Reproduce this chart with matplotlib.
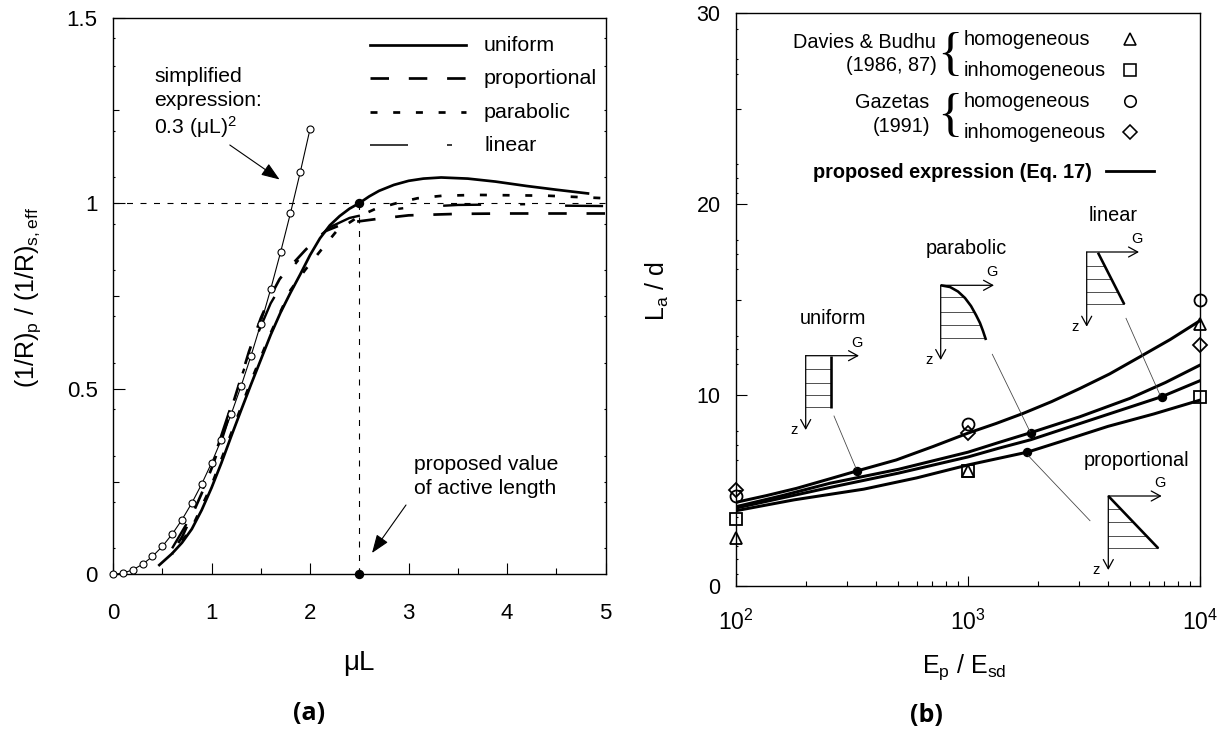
import matplotlib; matplotlib.use('agg')
import matplotlib.pyplot as plt
from matplotlib.ticker import FixedLocator, NullFormatter

plt.rcParams['font.family'] = ['Liberation Sans', 'DejaVu Sans']
plt.rcParams['mathtext.fontset'] = 'custom'
plt.rcParams['mathtext.rm'] = 'Liberation Sans'
plt.rcParams['mathtext.default'] = 'regular'
plt.rcParams['lines.scale_dashes'] = False
plt.rcParams['axes.linewidth'] = 1.0

W, H = 1231, 736
PX = 0.72   # one pixel in points at dpi 100

# panel (a): curvature ratio against mu L
uniform_x = [0.47, 0.6, 0.7, 0.8, 0.9, 1.0, 1.1, 1.2, 1.3, 1.4, 1.5, 1.6, 1.7, 1.8, 1.9, 2.0, 2.1, 2.2,
             2.3, 2.4, 2.5, 2.6, 2.7, 2.85, 3.0, 3.15, 3.33, 3.6, 3.88, 4.2, 4.5, 4.82]
uniform_y = [0.025, 0.056, 0.085, 0.122, 0.173, 0.233, 0.300, 0.372, 0.442, 0.511, 0.578, 0.645, 0.705,
             0.758, 0.808, 0.860, 0.905, 0.94, 0.965, 0.985, 1.0, 1.018, 1.033, 1.049, 1.06, 1.066, 1.069,
             1.066, 1.058, 1.046, 1.036, 1.026]
prop_x = [0.6, 0.7, 0.78, 0.9, 1.0, 1.1, 1.206, 1.3, 1.38, 1.5, 1.6, 1.69, 1.78, 1.86, 1.95, 2.05, 2.16,
          2.3, 2.47, 2.7, 3.0, 3.5, 4.0, 5.0]
prop_y = [0.06, 0.10, 0.146, 0.218, 0.285, 0.36, 0.45, 0.53, 0.60, 0.69, 0.75, 0.795, 0.825, 0.847, 0.873,
          0.90, 0.925, 0.94, 0.95, 0.958, 0.967, 0.971, 0.972, 0.972]
parab_x = [0.6, 0.8, 1.0, 1.2, 1.4, 1.6, 1.8, 1.95, 2.11, 2.27, 2.5, 2.66, 2.88, 3.09, 3.35, 3.7, 4.4, 5.0]
parab_y = [0.055, 0.125, 0.24, 0.38, 0.52, 0.65, 0.765, 0.82, 0.873, 0.925, 0.965, 0.984, 1.0, 1.013, 1.02,
           1.022, 1.02, 1.013]
linear_x = [0.6, 0.8, 0.9, 1.0, 1.2, 1.4, 1.6, 1.8, 2.0, 2.2, 2.4, 2.7, 3.0, 3.5, 4.2, 4.6, 5.0]
linear_y = [0.07, 0.16, 0.22, 0.295, 0.455, 0.605, 0.73, 0.82, 0.885, 0.935, 0.96, 0.978, 0.988, 0.995,
            0.997, 0.993, 0.992]
simple_x = [0, 0.1, 0.2, 0.3, 0.4, 0.5, 0.6, 0.7, 0.8, 0.9, 1.0, 1.1, 1.2, 1.3, 1.4, 1.5, 1.6, 1.7, 1.8, 1.9, 2.0]
simple_y = [0, 0.003, 0.012, 0.027, 0.048, 0.075, 0.108, 0.147, 0.192, 0.243, 0.3, 0.363, 0.432, 0.507, 0.588,
            0.675, 0.768, 0.867, 0.972, 1.083, 1.2]
active_x = 2.5
active_y = [0, 1]

# panel (b): active length against stiffness ratio
ep_uni = [100, 135, 182, 245, 331, 490, 708, 1000, 1318, 1725, 2290, 3034, 4070, 5500, 7413, 10000]
la_uni = [4.37, 4.72, 5.1, 5.55, 6.01, 6.59, 7.3, 8.0, 8.5, 9.03, 9.65, 10.34, 11.1, 12.0, 12.9, 13.9]
ep_par = [100, 158, 254, 501, 1000, 1350, 1860, 3020, 4980, 7080, 10000]
la_par = [4.14, 4.72, 5.37, 6.1, 7.0, 7.5, 8.02, 8.85, 9.82, 10.65, 11.57]
ep_lin = [100, 158, 254, 501, 1000, 1350, 1860, 3500, 6830, 10000]
la_lin = [4.07, 4.6, 5.15, 5.9, 6.75, 7.2, 7.65, 8.75, 9.91, 10.75]
ep_pro = [100, 178, 355, 600, 1000, 1800, 2500, 4000, 6300, 10000]
la_pro = [3.93, 4.5, 5.06, 5.65, 6.33, 7.0, 7.55, 8.35, 9.0, 9.73]
dot_ep = [331, 1860, 6830, 1800]
dot_la = [6.01, 8.02, 9.91, 7.0]

ep_data = [100, 1000, 10000]
db_homo = [2.5, 6.0, 13.7]
db_inhomo = [3.5, 6.0, 9.9]
gaz_homo = [4.7, 8.5, 15.0]
gaz_inhomo = [5.0, 8.0, 12.6]

curve_labels = ['uniform', 'proportional', 'parabolic', 'linear']
ticks_a_small = [0.07, 0.195, 0.32, 0.445, 0.57, 0.695, 0.82, 0.945, 1.07, 1.195, 1.37, 1.445]
ticks_b_small = [0.6, 1.4, 2.1, 3.6, 6.6, 7.4, 8.1, 11.6, 12.4, 13.1, 16.6, 17.4, 18.1, 20.6, 21.35, 22.1,
                 26.8, 27.6, 29.2]

PAT_PROP = (18.5 * PX, 19.8 * PX)
PAT_PARAB = (7 * PX, 15.7 * PX)
PAT_LINEAR = (38 * PX, 39 * PX, 5 * PX, 40 * PX)


def add_tiered_ticks(axis, mid, small, mid_len, small_len):
    vals = list(mid) + list(small)
    axis.set_minor_locator(FixedLocator(vals))
    axis.set_minor_formatter(NullFormatter())
    for i, t in enumerate(axis.get_minor_ticks(len(vals))):
        t.tick1line.set_markersize(mid_len if i < len(mid) else small_len)
        t.tick2line.set_markersize(small_len)
        t.tick1line.set_markeredgewidth(0.8)
        t.tick2line.set_markeredgewidth(0.8)


fig = plt.figure(figsize=(W / 100, H / 100), dpi=100)
ax1 = fig.add_axes([113 / W, 1 - 574.3 / H, (605.7 - 113) / W, (574.3 - 17.5) / H])
ax2 = fig.add_axes([736 / W, 1 - 585.7 / H, (1200.3 - 736) / W, (585.7 - 13.3) / H])

# overlay in image pixels, for the sketches and labels
ov = fig.add_axes([0, 0, 1, 1], zorder=5)
ov.set_xlim(0, W)
ov.set_ylim(H, 0)
ov.axis('off')

# ---- panel (a)
ax1.plot(uniform_x, uniform_y, 'k-', lw=2.7 * PX)
ax1.plot(prop_x, prop_y, color='k', lw=2.7 * PX, ls=(27.4 * PX, PAT_PROP))
ax1.plot(parab_x, parab_y, color='k', lw=2.7 * PX, ls=(6.2 * PX, PAT_PARAB))
ax1.plot(linear_x, linear_y, color='k', lw=2.4 * PX, ls=(9.8 * PX, PAT_LINEAR))
ax1.plot(simple_x, simple_y, 'k-', lw=1.1 * PX, marker='o', ms=7 * PX, mfc='w', mec='k', mew=1.1 * PX,
         clip_on=False, zorder=4)
ax1.plot([0, 5], [1, 1], color='k', lw=1.1 * PX, ls=(0, (6 * PX, 7.5 * PX)))
ax1.plot([active_x, active_x], active_y, color='k', lw=1.1 * PX, ls=(0, (6 * PX, 7.5 * PX)))
ax1.plot([active_x, active_x], active_y, 'o', color='k', ms=8 * PX, clip_on=False, zorder=5)

ax1.set_xlim(0, 5)
ax1.set_ylim(0, 1.5)
ax1.set_xticks([0, 1, 2, 3, 4, 5])
ax1.set_yticks([0, 0.5, 1, 1.5])
ax1.set_yticklabels(['0', '0.5', '1', '1.5'])
ax1.xaxis.set_minor_locator(FixedLocator([0.5, 1.5, 2.5, 3.5, 4.5]))
ax1.tick_params(axis='x', which='major', direction='in', length=11 * PX, width=0.8, labelsize=16, pad=21)
ax1.tick_params(axis='x', which='minor', direction='in', length=6 * PX, width=0.8)
ax1.tick_params(axis='y', which='major', direction='in', length=12 * PX, width=0.8, labelsize=16, pad=11)
ax1.tick_params(axis='y', which='minor', direction='in', right=True)
add_tiered_ticks(ax1.yaxis, [0.25, 0.75, 1.25], ticks_a_small, 6 * PX, 2 * PX)
ax1.set_xlabel('\u03bcL', fontsize=20, va='center')
ax1.xaxis.set_label_coords(359, 663, transform=ov.transData)
ax1.set_ylabel('(1/R)$_{p}$ / (1/R)$_{s,eff}$', fontsize=18, va='center')
ax1.yaxis.set_label_coords(28, 297, transform=ov.transData)

# legend drawn by hand, the way the original has it
leg_y = [44.5, 78, 112, 144.5]
leg_styles = [dict(lw=2.7 * PX, ls='-'), dict(lw=2.7 * PX, ls=(0, PAT_PROP)),
              dict(lw=2.7 * PX, ls=(0, PAT_PARAB)), dict(lw=1.5 * PX, ls=(0, PAT_LINEAR))]
for name, y, style in zip(curve_labels, leg_y, leg_styles):
    ov.plot([370, 466], [y, y], color='k', **style)
    ov.text(484, y + 1, name, fontsize=15.4, va='center', ha='left')

ov.text(154, 76, 'simplified', fontsize=15.2, va='center')
ov.text(154, 101, 'expression:', fontsize=15.2, va='center')
ov.text(154, 126.7, '0.3 (\u03bcL)$^{2}$', fontsize=15.2, va='center')
ov.annotate('', xy=(279.6, 179.5), xytext=(229.8, 145),
            arrowprops=dict(arrowstyle='-|>,head_length=0.75,head_width=0.28', fc='k', ec='k', lw=0.8,
                            shrinkA=0, shrinkB=0, mutation_scale=15))
ov.text(414, 465, 'proposed value', fontsize=15.2, va='center')
ov.text(414, 489, 'of active length', fontsize=15.2, va='center')
ov.annotate('', xy=(372, 553), xytext=(406, 505),
            arrowprops=dict(arrowstyle='-|>,head_length=0.75,head_width=0.28', fc='k', ec='k', lw=0.8,
                            shrinkA=0, shrinkB=0, mutation_scale=15))
ov.text(309.5, 713, '(a)', fontsize=18, fontweight='bold', family='Open Sans', ha='center', va='center')

# ---- panel (b)
for xs, ys in [(ep_uni, la_uni), (ep_par, la_par), (ep_lin, la_lin), (ep_pro, la_pro)]:
    ax2.plot(xs, ys, 'k-', lw=3.0 * PX)
ax2.plot(dot_ep, dot_la, 'o', color='k', ms=8 * PX, zorder=5)
mk = dict(mfc='none', mec='k', mew=1.8 * PX, ms=12 * PX, ls='none', clip_on=False, zorder=6)
ax2.plot(ep_data, db_homo, marker='^', **mk)
ax2.plot(ep_data, db_inhomo, marker='s', **mk)
ax2.plot(ep_data, gaz_homo, marker='o', **mk)
ax2.plot(ep_data, gaz_inhomo, marker='D', **{**mk, 'ms': 10 * PX})

ax2.set_xscale('log')
ax2.set_xlim(100, 10000)
ax2.set_ylim(0, 30)
ax2.set_yticks([0, 10, 20, 30])
ax2.tick_params(axis='x', which='major', direction='in', length=10 * PX, width=0.8, labelsize=16.5, pad=17)
ax2.tick_params(axis='x', which='minor', direction='in', length=5 * PX, width=0.8)
ax2.tick_params(axis='y', which='major', direction='in', length=11 * PX, width=0.8, labelsize=15.5, pad=11)
ax2.tick_params(axis='y', which='minor', direction='in')
add_tiered_ticks(ax2.yaxis, [5, 15, 25], ticks_b_small, 5 * PX, 1.5 * PX)
ax2.set_xlabel('E$_{p}$ / E$_{sd}$', fontsize=18, va='center')
ax2.xaxis.set_label_coords(964, 667, transform=ov.transData)
ax2.set_ylabel('L$_{a}$ / d', fontsize=18, va='center')
ax2.yaxis.set_label_coords(657, 291, transform=ov.transData)

for txt, x, y in [('Davies & Budhu', 936, 42.7), ('(1986, 87)', 937, 65.7), ('Gazetas', 929, 103), ('(1991)', 930, 126.7)]:
    ov.text(x, y, txt, fontsize=14.3, ha='right', va='center')
for y in [55.5, 117]:
    ov.text(950, y, '{', fontsize=38, family='Liberation Serif', ha='center', va='center')
for txt, y, m, ms in [('homogeneous', 39.5, '^', 12), ('inhomogeneous', 70.5, 's', 11.5),
                      ('homogeneous', 101.5, 'o', 11.5), ('inhomogeneous', 132.5, 'D', 9.5)]:
    ov.text(964, y, txt, fontsize=14.3, va='center')
    ov.plot([1130], [y - 0.5], marker=m, ms=ms * PX, mfc='none', mec='k', mew=1.6 * PX)
ov.text(1092, 172.7, 'proposed expression (Eq. 17)', fontsize=14.3, fontweight='bold', ha='right', va='center')
ov.plot([1106, 1154], [171, 171], 'k-', lw=2.8 * PX)

ov.text(1089, 215.7, 'linear', fontsize=14.3, va='center')
ov.text(926, 249, 'parabolic', fontsize=14.3, va='center')
ov.text(800, 318.3, 'uniform', fontsize=14.3, va='center')
ov.text(1084, 460, 'proportional', fontsize=14.3, va='center')
ov.text(926.7, 715, '(b)', fontsize=18, fontweight='bold', family='Open Sans', ha='center', va='center')


def sketch(x0, y0, arrow_x, z_tip, prof_x, prof_y, hatch_y, hatch_x):
    for hy, hx in zip(hatch_y, hatch_x):
        ov.plot([x0, hx], [hy, hy], color='#555555', lw=1.0 * PX)
    ov.plot(prof_x, prof_y, 'k-', lw=2.6 * PX, solid_capstyle='butt')
    for end in [(arrow_x, y0), (x0, z_tip)]:
        ov.annotate('', xy=end, xytext=(x0, y0),
                    arrowprops=dict(arrowstyle='->,head_length=0.55,head_width=0.3', color='k', lw=0.9,
                                    shrinkA=0, shrinkB=0, mutation_scale=12))
    ov.text(arrow_x - 2, y0 - 13, 'G', fontsize=10.5, ha='center', va='center')
    ov.text(x0 - 12, z_tip, 'z', fontsize=10.5, ha='center', va='center')


sketch(805.7, 355.7, 859, 430, [831.3, 831.3], [355.7, 408], [369, 382.7, 395.3, 407.3], [831] * 4)
sketch(940.7, 285.3, 994, 360,
       [940.7, 950, 958, 965, 971, 976, 980, 983, 986], [285.3, 287, 291.5, 298, 306, 315, 323, 331, 340],
       [297.3, 312.3, 325, 337.7], [964, 974, 981, 985])
sketch(1086.7, 252, 1139, 326.7, [1098, 1124.3], [252.7, 304.3], [265.7, 278.7, 291.7, 304],
       [1104, 1110.5, 1118, 1124])
sketch(1108.3, 496, 1161.7, 570, [1108.3, 1158.3], [496, 548.3], [509.3, 522.3, 535.7, 548.3],
       [1121, 1133, 1146, 1158])

for lx, ly in [([834, 856], [416, 468.3]), ([992.3, 1030], [354.3, 431.7]),
               ([1126, 1160], [318.3, 395]), ([1028.3, 1090], [455.7, 520.7])]:
    ov.plot(lx, ly, color='#444444', lw=0.8 * PX)

fig.savefig('out.png', dpi=100)
